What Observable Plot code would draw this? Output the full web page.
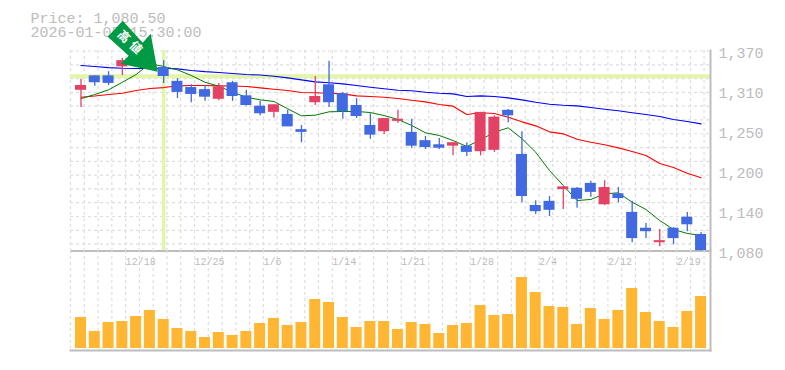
<!DOCTYPE html>
<html>
<head>
<meta charset="utf-8">
<script src="https://cdn.jsdelivr.net/npm/d3@7"></script>
<script src="https://cdn.jsdelivr.net/npm/@observablehq/plot@0.6"></script>
<style>
html,body{margin:0;padding:0;background:#fff;width:785px;height:370px;overflow:hidden}
svg{display:block}
</style>
</head>
<body>
<div id="chart"></div>
<script>
const dates = ["12/12","12/15","12/16","12/17","12/18","12/19","12/22","12/23","12/24","12/25","12/26","12/29","12/30","1/5","1/6","1/7","1/8","1/9","1/13","1/14","1/15","1/16","1/19","1/20","1/21","1/22","1/23","1/26","1/27","1/28","1/29","1/30","2/2","2/3","2/4","2/5","2/6","2/9","2/10","2/12","2/13","2/16","2/17","2/18","2/19","2/20"];
const opens  = [1313,1334,1334,1347,1353,1354,1346,1326,1317,1314,1300,1324,1305,1290,1281,1278,1256,1295,1321,1308,1291,1262,1253,1268,1252,1240,1234,1232,1232,1224,1226,1284,1220,1146,1152,1169,1171,1178,1147,1163,1136,1113,1092,1113,1129,1104];
const closes = [1320,1324,1323,1356,1368,1345,1333,1310,1307,1303,1318,1304,1291,1279,1292,1260,1252,1304,1295,1282,1275,1248,1272,1271,1232,1230,1229,1237,1223,1281,1274,1276,1159,1137,1139,1173,1155,1165,1172,1156,1098,1108,1095,1098,1118,1080.5];
const highs  = [1329,1334,1340,1359,1370,1356,1356,1330,1321,1320,1323,1326,1313,1297,1292,1284,1262,1333,1355,1310,1301,1279,1272,1284,1271,1246,1243,1237,1237,1281,1276,1285,1253,1153,1159,1173,1172,1181,1182,1172,1152,1120,1111,1114,1136,1107];
const lows   = [1288,1319,1320,1334,1350,1343,1323,1301,1295,1297,1298,1297,1290,1276,1273,1260,1237,1291,1288,1271,1272,1242,1249,1265,1229,1227,1227,1218,1217,1218,1223,1266,1150,1133,1130,1140,1142,1158,1146,1150,1092,1098,1086,1089,1108,1080.5];
const maLong = [1349,1347.5,1346,1345,1344.6,1344.6,1345,1344,1341.7,1340,1338.8,1337.4,1335.9,1335.2,1333.4,1331.1,1328.2,1325.3,1323.9,1322.4,1320,1317.5,1315.2,1313.1,1312.3,1310.2,1308.8,1307.9,1304,1305,1304,1302.1,1299.2,1295.7,1292.8,1291.4,1290.5,1288,1285.6,1283.3,1280.4,1277.9,1275,1270.7,1267.8,1264.4];
const maMid  = [1303,1304.7,1306.9,1308.8,1312.7,1315.6,1317,1319.5,1320,1320,1319.5,1319.2,1318.5,1316.6,1314.6,1312.7,1309.8,1309.4,1308.8,1307.9,1305,1304,1303,1301.1,1298.6,1296.3,1292.4,1290,1277.9,1280.4,1279.4,1274,1267.3,1261.5,1252.8,1249.9,1242,1237.7,1234,1229.6,1224.2,1218.5,1206.9,1201,1192.8,1186.1];
const maShort= [1301,1306.9,1313.7,1324.7,1335.9,1351.8,1347.5,1342.7,1334.5,1324.7,1318.9,1310.2,1303,1299.2,1296.8,1286.2,1276,1276.9,1281.8,1282.3,1282.3,1280.8,1276.4,1270.7,1262,1251.4,1247.5,1240.2,1231.5,1241.2,1252.2,1258.6,1243,1223.2,1196.7,1175,1153.2,1154.7,1162.9,1164.4,1150.7,1140.2,1124.2,1111.2,1105.4,1102.5];
const volumes= [310,170,260,270,320,380,290,200,170,110,160,130,170,250,300,230,260,490,460,310,210,270,270,190,260,240,150,230,250,430,330,340,710,560,420,410,240,400,290,380,600,360,270,210,370,520];
const tickDates = ["12/18","12/25","1/6","1/14","1/21","1/28","2/4","2/12","2/19"];
const priceTicks = [1370,1312,1254,1196,1138,1080];
const priceGrid = [1370,1350,1330,1310,1290,1270,1250,1230,1210,1190,1170,1150,1130,1110,1090];
const titleLines = ["Price: 1,080.50","2026-01-05 15:30:00"];
const markerDate = "12/22";
const markerPrice = 1333.4;
const markerLabel = ["高","値"];

const rows = dates.map((date,i)=>({date,open:opens[i],close:closes[i],high:highs[i],low:lows[i],long:maLong[i],mid:maMid[i],short:maShort[i],volume:volumes[i]}));
const UP="#e34264", DOWN="#4169e1", GRID="#dedede", LABEL="#bcbcbc", AXIS="#bdbdbd", MARK="#e3f5a9";
const mono='"Liberation Mono",monospace';
const gridDx=-10.5;

const xScale={type:"band",domain:dates,range:[72.24,708.84],padding:0.2,round:false,axis:null};
const vGrid=[
  Plot.ruleX(dates,{x:d=>d,dx:gridDx,stroke:GRID,strokeWidth:1.2,strokeDasharray:"3,3"}),
  Plot.ruleX(dates.slice(-1),{x:d=>d,dx:3,stroke:GRID,strokeWidth:1.2,strokeDasharray:"3,3"})
];

const arrow={draw(c){
  c.moveTo(0,0);c.lineTo(-7,-38);c.lineTo(-15,-29);c.lineTo(-35,-51);c.lineTo(-50,-35);c.lineTo(-29,-16);c.lineTo(-37,-8);c.closePath();
}};

const pricePanel=Plot.plot({
  width:785,height:250,marginLeft:70,marginRight:75,marginTop:50,marginBottom:0,
  style:{background:"transparent",overflow:"visible"},
  x:xScale,
  y:{domain:[1080,1370],range:[250.5,50.5],axis:null},
  marks:[
    ...vGrid,
    Plot.ruleY(priceGrid,{y:d=>d,stroke:GRID,strokeWidth:1.2,strokeDasharray:"3,3"}),
    Plot.ruleY([markerPrice],{y:d=>d,stroke:MARK,strokeWidth:4}),
    Plot.ruleX([markerDate],{x:d=>d,stroke:MARK,strokeWidth:3.5}),
    Plot.frame({anchor:"right",stroke:AXIS,strokeWidth:2}),
    Plot.ruleY([1080],{y:d=>d,stroke:AXIS,strokeWidth:2}),
    Plot.line(rows,{x:"date",y:"long",stroke:"#0000ff",strokeWidth:1.15}),
    Plot.line(rows,{x:"date",y:"mid",stroke:"#ff0000",strokeWidth:1.15}),
    Plot.line(rows,{x:"date",y:"short",stroke:"#007a00",strokeWidth:1}),
    Plot.ruleX(rows,{x:"date",y1:"low",y2:"high",stroke:d=>d.close>=d.open?UP:DOWN,strokeWidth:1.3}),
    Plot.barY(rows,{x:"date",y1:"open",y2:"close",fill:d=>d.close>=d.open?UP:DOWN}),
    Plot.text([titleLines[0]],{text:d=>d,frameAnchor:"top-left",dx:-40,dy:-38,fontFamily:mono,fontSize:15,fill:LABEL,textAnchor:"start"}),
    Plot.text([titleLines[1]],{text:d=>d,frameAnchor:"top-left",dx:-40,dy:-24,fontFamily:mono,fontSize:15,fill:LABEL,textAnchor:"start"}),
    Plot.text(priceTicks,{y:d=>d,text:d=>d3.format(",")(Math.round(d/10)*10),frameAnchor:"left",dx:648,dy:2.5,textAnchor:"start",fontFamily:mono,fontSize:15,fill:LABEL}),
    Plot.dot([markerDate],{x:d=>d,y:()=>1356,dx:-6,dy:11,symbol:arrow,fill:"#009944",stroke:"none"}),
    Plot.text([markerLabel[0]],{x:()=>markerDate,y:()=>1356,dx:-40,dy:-24,text:d=>d,rotate:45,fill:"#fff",fontSize:12,fontWeight:"bold",fontFamily:'"Noto Sans CJK JP"'}),
    Plot.text([markerLabel[1]],{x:()=>markerDate,y:()=>1356,dx:-28,dy:-13,text:d=>d,rotate:45,fill:"#fff",fontSize:12,fontWeight:"bold",fontFamily:'"Noto Sans CJK JP"'})
  ]
});

const volumePanel=Plot.plot({
  width:785,height:120,marginLeft:70,marginRight:75,marginTop:0,marginBottom:20,
  style:{background:"transparent",overflow:"visible"},
  x:xScale,
  y:{domain:[0,980],range:[98,0],axis:null},
  marks:[
    ...vGrid,
    Plot.frame({anchor:"right",stroke:AXIS,strokeWidth:2}),
    Plot.frame({anchor:"bottom",stroke:AXIS,strokeWidth:2}),
    Plot.barY(rows,{x:"date",y1:()=>0,y2:"volume",fill:"#ffb733"}),
    Plot.text(tickDates,{x:d=>d,text:d=>d,frameAnchor:"top",dx:gridDx,dy:7,textAnchor:"start",fontFamily:mono,fontSize:10,fill:LABEL})
  ]
});
document.getElementById("chart").append(pricePanel,volumePanel);
</script>
</body>
</html>
